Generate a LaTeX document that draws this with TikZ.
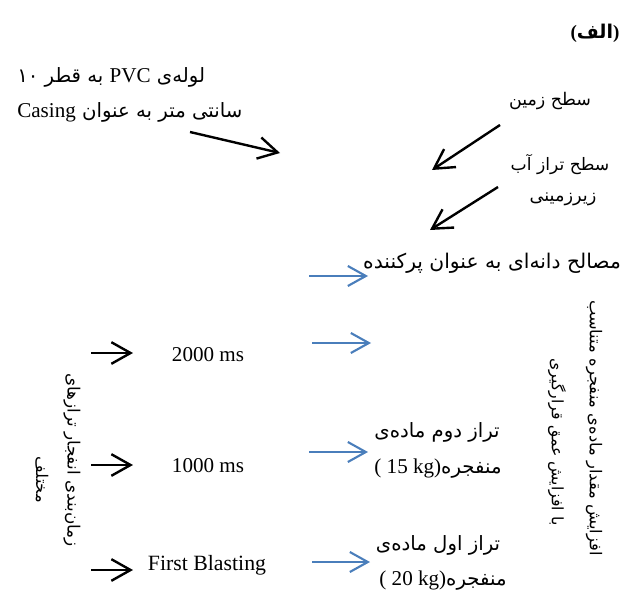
\documentclass[tikz,border=0pt]{standalone}
\usepackage{fontspec}
\setmainfont{Liberation Serif}
\newfontfamily\farsi[Script=Arabic]{DejaVu Sans}
\TeXXeTstate=1
\usetikzlibrary{arrows.meta}
\definecolor{arrowblue}{HTML}{4A7EBB}
\newcommand{\fa}[1]{{\farsi\beginR #1\endR}}
\newcommand{\fsize}[1]{\fontsize{#1}{1.2\dimexpr #1pt\relax}\selectfont}
\tikzset{
  lbl/.style={inner sep=0pt, font=\fsize{15}},
  falbl/.style={inner sep=0pt, font=\farsi\fsize{14}},
  blackarrow/.style={-{Straight Barb[length=4.8mm,width=5.4mm]}, line width=1.7pt},
  bluearrow/.style={-{Straight Barb[length=4.5mm,width=5mm]}, line width=1.5pt, draw=arrowblue},
}
\begin{document}
\begin{tikzpicture}[x=0.025cm,y=-0.025cm]
  \useasboundingbox (0,0) rectangle (630,597);

  % Title
  \node [lbl, font=\fsize{13.5}\bfseries] (title) at (595,33) {{\rmfamily(}{\farsi الف}{\rmfamily)}};

  % Labels on the top
  \node [falbl, anchor=base west] (casingA) at (17,83) {\fa{لوله^^^^200cی {\rmfamily\fsize{15}PVC} به قطر ۱۰}};
  \node [falbl, anchor=base west] (casingB) at (17,118) {\fa{سانتی متر به عنوان {\rmfamily\fsize{15}Casing}}};
  \node [falbl, font=\farsi\fsize{12.4}] (ground) at (550,101) {\fa{سطح زمین}};
  \node [falbl, font=\farsi\fsize{12.2}] (waterA) at (560,165) {\fa{سطح تراز آب}};
  \node [falbl, font=\farsi\fsize{12.6}] (waterB) at (563,199) {\fa{زیرزمینی}};
  \node [falbl, font=\farsi\fsize{14.4}] (filler) at (492,263) {\fa{مصالح دانه^^^^200cای به عنوان پرکننده}};

  % Drawing black arrows on the top
  \coordinate (casingS) at (190,132);  \coordinate (casingE) at (280,153);
  \coordinate (groundS) at (500,125);  \coordinate (groundE) at (432,170);
  \coordinate (waterS) at (498,187);   \coordinate (waterE) at (430,230);
  \draw [blackarrow] (casingS) -- (casingE);
  \draw [blackarrow] (groundS) -- (groundE);
  \draw [blackarrow] (waterS) -- (waterE);

  % Drawing blue arrows
  \coordinate (blueAS) at (309,276);  \coordinate (blueAE) at (368,276);
  \coordinate (blueBS) at (312,343);  \coordinate (blueBE) at (371,343);
  \coordinate (blueCS) at (309,452);  \coordinate (blueCE) at (368,452);
  \coordinate (blueDS) at (312,562);  \coordinate (blueDE) at (370,562);
  \draw [bluearrow] (blueAS) -- (blueAE);
  \draw [bluearrow] (blueBS) -- (blueBE);
  \draw [bluearrow] (blueCS) -- (blueCE);
  \draw [bluearrow] (blueDS) -- (blueDE);

  % Charge levels
  \node [falbl] (secondA) at (437,432) {\fa{تراز دوم ماده^^^^200cی}};
  \node [falbl, anchor=base] (secondB) at (438,473) {\fa{منفجره{\rmfamily\fsize{15}\beginL( 15 kg)\endL}}};
  \node [falbl] (firstA) at (438,545) {\fa{تراز اول ماده^^^^200cی}};
  \node [falbl, anchor=base] (firstB) at (443,585) {\fa{منفجره{\rmfamily\fsize{15}\beginL( 20 kg)\endL}}};

  % Delays
  \node [lbl] (delayA) at (208,355) {2000 ms};
  \node [lbl] (delayB) at (208,466) {1000 ms};
  \node [lbl, font=\fsize{15.5}] (delayC) at (207,565) {First Blasting};
  \coordinate (delayAS) at (91,353);  \coordinate (delayAE) at (133,353);
  \coordinate (delayBS) at (91,465);  \coordinate (delayBE) at (133,465);
  \coordinate (delayCS) at (91,570);  \coordinate (delayCE) at (133,570);
  \draw [blackarrow] (delayAS) -- (delayAE);
  \draw [blackarrow] (delayBS) -- (delayBE);
  \draw [blackarrow] (delayCS) -- (delayCE);

  % Vertical texts
  \node [falbl, font=\farsi\fsize{12}, rotate=-90] (timingA) at (72,460) {\fa{زمان^^^^200cبندی انفجار ترازهای}};
  \node [falbl, font=\farsi\fsize{11.5}, rotate=-90] (timingB) at (42,480) {\fa{مختلف}};
  \node [falbl, font=\farsi\fsize{11.6}, rotate=-90] (depthA) at (594,428) {\fa{افزایش مقدار ماده^^^^200cی منفجره متناسب}};
  \node [falbl, font=\farsi\fsize{11.2}, rotate=-90] (depthB) at (557,442) {\fa{با افزایش عمق قرارگیری}};
\end{tikzpicture}
\end{document}
